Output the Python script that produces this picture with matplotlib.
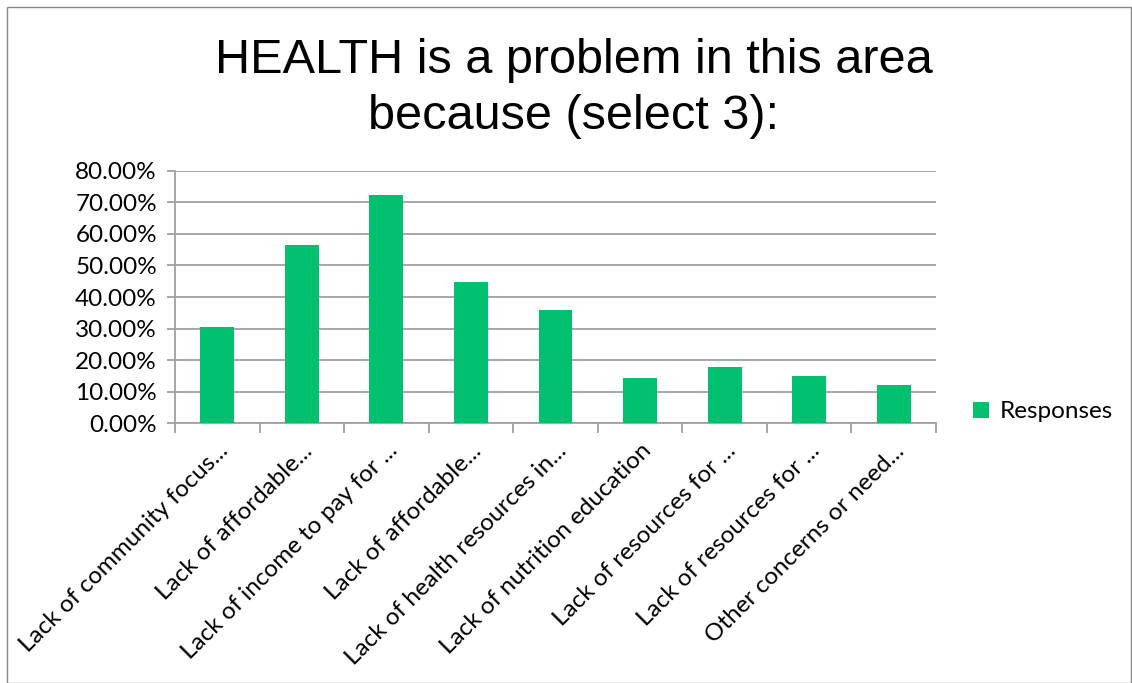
import numpy as np
import matplotlib.pyplot as plt
from matplotlib.patches import Rectangle
from matplotlib.ticker import PercentFormatter

# data
categories = ['Lack of community focus...', 'Lack of affordable...', 'Lack of income to pay for ...',
              'Lack of affordable...', 'Lack of health resources in...', 'Lack of nutrition education',
              'Lack of resources for ...', 'Lack of resources for ...', 'Other concerns or need...']
responses = [30.6, 56.4, 72.2, 44.8, 35.9, 14.2, 17.7, 15.0, 12.0]
yticks = [0, 10, 20, 30, 40, 50, 60, 70, 80]

bar_color = '#00BF6F'
grid_color = '#A0A0A0'

plt.rcParams['font.family'] = ['Lato', 'DejaVu Sans']

fig = plt.figure(figsize=(11.32, 6.83), dpi=100)
ax = fig.add_axes([0.1546, 0.3802, 0.6723, 0.3698])

x = np.arange(len(categories))
ax.bar(x, responses, width=0.4, color=bar_color, label='Responses', zorder=3)

ax.set_xlim(-0.5, len(categories) - 0.5)
ax.set_ylim(0, 80)
ax.set_yticks(yticks)
ax.yaxis.set_major_formatter(PercentFormatter(decimals=2))
ax.grid(axis='y', color=grid_color, linewidth=1.3, zorder=0)

ax.set_xticks(x)
ax.set_xticklabels(categories, rotation=45, ha='right', rotation_mode='anchor', fontsize=17.5)
ax.set_xticks(np.arange(len(categories) + 1) - 0.5, minor=True)
ax.tick_params(axis='x', which='major', length=0, pad=12)
ax.tick_params(axis='x', which='minor', length=7, color=grid_color, width=1.3)
ax.tick_params(axis='y', length=6, color=grid_color, width=1.3, labelsize=17.5, pad=7)

for side in ['top', 'right']:
    ax.spines[side].set_visible(False)
for side in ['left', 'bottom']:
    ax.spines[side].set_color(grid_color)
    ax.spines[side].set_linewidth(1.3)

fig.suptitle('HEALTH is a problem in this area\nbecause (select 3):', x=0.507, y=0.945,
             fontsize=35, family='Liberation Sans', linespacing=1.34)

ax.legend(loc='center left', bbox_to_anchor=(0.84, 0.397), bbox_transform=fig.transFigure,
          frameon=False, fontsize=17.5, handlelength=0.65, handleheight=0.65, handletextpad=0.45)

fig.patches.append(Rectangle((7 / 1132, 0), 1 - 8 / 1132, 1 - 7 / 683, transform=fig.transFigure,
                             fill=False, edgecolor='#888888', linewidth=1))

fig.savefig('out.png', dpi=100)
